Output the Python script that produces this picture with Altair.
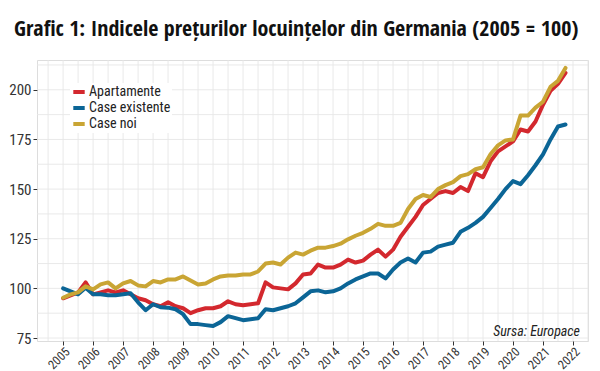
import altair as alt
import pandas as pd

start_year = 2005.0
step = 0.25

apartamente = [95, 96.5, 98, 103, 97, 98, 99, 98, 99, 97, 95, 94, 92, 91, 93, 91,
               90, 87.5, 89, 90, 90, 91, 93.5, 92, 91.5, 92, 92.5, 103, 100.5, 100, 99.5, 102.5,
               107, 107.5, 112, 110.5, 110.5, 112, 114.5, 113, 114, 117, 119.5, 116, 119.5, 126, 131, 136,
               142, 145, 148, 149, 148, 151, 149, 158, 156, 164, 169, 171.5, 174, 180, 179, 184,
               192.5, 199.5, 203, 208.5]
case_existente = [100, 98.5, 97, 100.3, 97, 97, 96.5, 96.5, 97, 97.5, 93, 89, 92, 90.5, 90.3, 89.5,
                  87, 82, 82, 81.5, 81, 83, 86, 85, 84, 84.5, 85, 89.5, 89, 90, 91, 92.5,
                  95.5, 98.5, 99, 98, 98.5, 100, 102.5, 104.5, 106, 107.5, 107.5, 105, 109.5, 113, 115, 113,
                  118, 118.5, 121, 122, 123, 128.5, 130.5, 133, 136, 140.5, 145, 150, 154, 152.5, 157, 162,
                  167.5, 175, 181.5, 182.5]
case_noi = [95.3, 97, 98, 101, 99.5, 102, 103, 100, 102.5, 103.7, 101.5, 101, 103.7, 103, 104.5, 104.5,
            106, 104, 102, 102.5, 104.5, 106, 106.5, 106.5, 107, 107, 108.5, 112.5, 113, 112, 115.5, 118,
            117, 119, 120.5, 120.5, 121.3, 122.5, 124.7, 126.5, 128, 130, 132.5, 131.5, 131.5, 133, 140, 145,
            147, 146, 150, 152, 153.5, 156.5, 157.5, 160, 161, 167.5, 172, 174.5, 175, 187, 187, 191,
            194, 201.5, 204.5, 211]

series_names = ["Apartamente", "Case existente", "Case noi"]
series_colors = ["#d3282e", "#0b6596", "#c9a534"]
year_ticks = list(range(2005, 2023))
y_ticks = [75, 100, 125, 150, 175, 200]
grid_x = [2004.5 + 0.5 * i for i in range(37)]
grid_y = [75 + 12.5 * i for i in range(12)]
title_text = "Grafic 1: Indicele prețurilor locuințelor din Germania (2005 = 100)"
source_text = "Sursa: Europace"

rows = []
for name, vals in zip(series_names, [apartamente, case_existente, case_noi]):
    for i, v in enumerate(vals):
        rows.append({"an": start_year + i * step, "valoare": v, "serie": name})
df = pd.DataFrame(rows)

TITLE_FONT = "Open Sans Condensed, Roboto Condensed, sans-serif"
FONT = "Roboto Condensed, Open Sans Condensed, sans-serif"
xdom = [2004.13, 2022.5]
ydom = [73.5, 215]
xs = alt.Scale(domain=xdom, nice=False, zero=False)
ys = alt.Scale(domain=ydom, nice=False, zero=False)

xaxis = alt.Axis(values=year_ticks, format="d", labelAngle=-45, labelFontSize=12.5,
                 labelFont=FONT, labelFontWeight="normal", labelColor="#333333",
                 tickColor="#333333", tickSize=4, domain=False, grid=False, labelPadding=0, title=None)
yaxis = alt.Axis(values=y_ticks, labelFontSize=15, labelFont=FONT, labelFontWeight="normal",
                 labelColor="#333333", tickColor="#333333", tickSize=4, domain=False, grid=False,
                 labelPadding=2, title=None)

gx = alt.Chart(pd.DataFrame({"g": grid_x})).mark_rule(color="#e6e6e6", strokeWidth=0.9).encode(
    x=alt.X("g:Q", scale=xs, axis=xaxis))
gy = alt.Chart(pd.DataFrame({"g": grid_y})).mark_rule(color="#e6e6e6", strokeWidth=0.9).encode(
    y=alt.Y("g:Q", scale=ys, axis=yaxis))

lines = alt.Chart(df).mark_line(strokeWidth=4, strokeJoin="round", strokeCap="round").encode(
    x=alt.X("an:Q", scale=xs, axis=xaxis),
    y=alt.Y("valoare:Q", scale=ys, axis=yaxis),
    color=alt.Color("serie:N", scale=alt.Scale(domain=series_names, range=series_colors),
                    legend=alt.Legend(title=None, orient="none", legendX=33, legendY=23,
                                      symbolType="stroke", symbolStrokeWidth=4, symbolSize=130,
                                      labelFont=FONT, labelFontSize=14, labelFontWeight="normal",
                                      labelColor="#222222", labelLimit=200,
                                      rowPadding=-2, labelOffset=2, fillColor="white", padding=1)),
    order=alt.Order("an:Q"),
)

src = alt.Chart(pd.DataFrame({"t": [source_text]})).mark_text(
    font=FONT, fontSize=14, fontStyle="italic", fontWeight="normal", align="right",
    baseline="alphabetic", color="#222222"
).encode(text="t:N", x=alt.value(543), y=alt.value(276))

chart = alt.layer(gx, gy, lines, src).properties(
    width=551, height=281,
    padding={"left": 29, "top": 52, "right": 4, "bottom": 30},
    autosize=alt.AutoSizeParams(type="none"),
    title=alt.TitleParams(title_text, anchor="start", frame="group", dx=-23, offset=19,
                          font=TITLE_FONT, fontSize=22, fontWeight="bold", color="#111111"),
).configure_view(stroke="#333333", strokeWidth=1.2).configure(background="white")

chart.save("out.html", embed_options={"renderer": "svg", "actions": False})
